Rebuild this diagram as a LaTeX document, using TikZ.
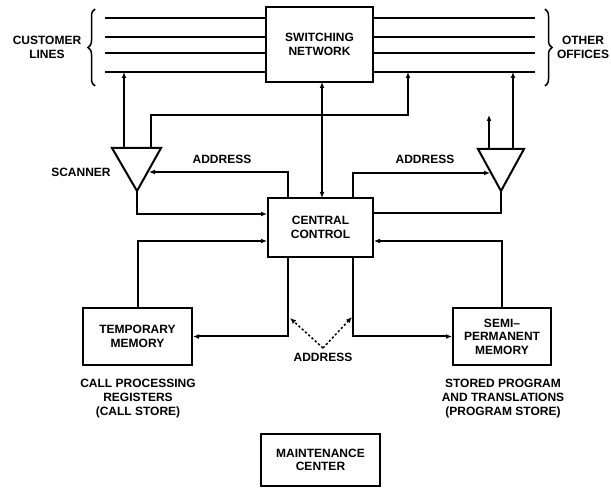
\documentclass[tikz,border=0pt]{standalone}
\usepackage{fontspec}
\setmainfont{Liberation Sans}
\usetikzlibrary{arrows.meta,decorations.pathreplacing}
\begin{document}
\begin{tikzpicture}[x=1pt,y=-1pt,
  wire/.style={line width=2pt},
  arr/.style={wire,-{Latex[length=6pt,width=5pt]}},
  unit/.style={draw,line width=2pt,font=\bfseries\fontsize{12}{13.5}\selectfont,align=center,inner sep=0pt},
  lbl/.style={font=\bfseries\fontsize{12}{14}\selectfont,align=center,inner sep=0pt},
  dotarrow/.style={line width=1.5pt,dash pattern=on 2.2pt off 2.2pt,-{Latex[length=6pt,width=5pt]}}]
\useasboundingbox (0,0) rectangle (611,489);

% main blocks
\node[unit,minimum width=107pt,minimum height=75pt] (sn) at (319.5,44.5) {SWITCHING\\NETWORK};
\node[unit,minimum width=105pt,minimum height=59pt] (cc) at (320.5,227.5) {CENTRAL\\CONTROL};
\node[unit,minimum width=109pt,minimum height=57pt] (tm) at (137.5,336.5) {TEMPORARY\\MEMORY};
\node[unit,minimum width=98pt,minimum height=57pt] (spm) at (502,336.5) {SEMI--\\PERMANENT\\MEMORY};
\node[unit,minimum width=119pt,minimum height=52pt] (mc) at (320.5,460) {MAINTENANCE\\CENTER};

% labels
\node[lbl] (cust) at (47,47) {CUSTOMER\\LINES};
\node[lbl] (oth) at (583,47) {OTHER\\OFFICES};
\node[lbl] (scanlbl) at (81,172) {SCANNER};
\node[lbl] (addrl) at (222,159) {ADDRESS};
\node[lbl] (addrr) at (425,159) {ADDRESS};
\node[lbl] (addrb) at (323,357) {ADDRESS};
\node[lbl] (cstore) at (138,399) {CALL PROCESSING\\REGISTERS\\(CALL STORE)};
\node[lbl] (pstore) at (503,399) {STORED PROGRAM\\AND TRANSLATIONS\\(PROGRAM STORE)};

% line bundles and braces
\foreach \i/\yy in {1/18,2/37,3/53,4/72}{
  \coordinate (cl\i) at (105,\yy);
  \coordinate (ol\i) at (535,\yy);
  \draw[wire] (cl\i) -- (cl\i -| sn.west);
  \draw[wire] (ol\i) -- (ol\i -| sn.east);
}
\coordinate (bl1) at (95,86); \coordinate (bl2) at (95,9);
\coordinate (br1) at (545,9); \coordinate (br2) at (545,86);
\draw[line width=1.5pt,decorate,decoration={brace,amplitude=7pt}] (bl1) -- (bl2);
\draw[line width=1.5pt,decorate,decoration={brace,amplitude=7pt}] (br1) -- (br2);

% scanner and distributor triangles
\coordinate (sa) at (112,148); \coordinate (sb) at (161,148); \coordinate (sc) at (137,191);
\coordinate (da) at (478,149); \coordinate (db) at (524,149); \coordinate (dc) at (501,191);
\draw[wire,line join=miter] (sa) -- (sb) -- (sc) -- cycle;
\draw[wire,line join=miter] (da) -- (db) -- (dc) -- cycle;

% scanner connections
\coordinate (s1) at (124,148);
\coordinate (s2) at (151,148);
\coordinate (sin) at (149,172);
\draw[arr] (s1) -- (s1 |- cl4);
\draw[arr] (s2) -- (151,115) -- (408,115) -- (408,72);
\draw[arr] (288,198) |- (sin);
\draw[arr] (sc) -- (137,214) -- (137,214 -| cc.west);

% distributor connections
\coordinate (d1) at (513,149);
\coordinate (d2) at (489,149);
\coordinate (din) at (490,173);
\draw[arr] (d1) -- (d1 |- ol4);
\draw[arr] (d2) -- (489,115);
\draw[arr] (353,198) |- (din);
\draw[wire] (dc) -- (501,213) -- (501,213 -| cc.east);

% switching network <-> central control
\draw[wire,{Latex[length=6pt,width=5pt]}-{Latex[length=6pt,width=5pt]}] (322,82) -- (322,198);

% memories
\draw[arr] (tm.north) |- (137,241 -| cc.west);
\draw[arr] (288,257) |- (tm.east);
\draw[arr] (spm.north) |- (502,241 -| cc.east);
\draw[arr] (353,257) |- (spm.west);

% address lines to memories
\coordinate (ap) at (323,348);
\draw[dotarrow] (ap) -- (290,318);
\draw[dotarrow] (ap) -- (352,317);
\end{tikzpicture}
\end{document}
